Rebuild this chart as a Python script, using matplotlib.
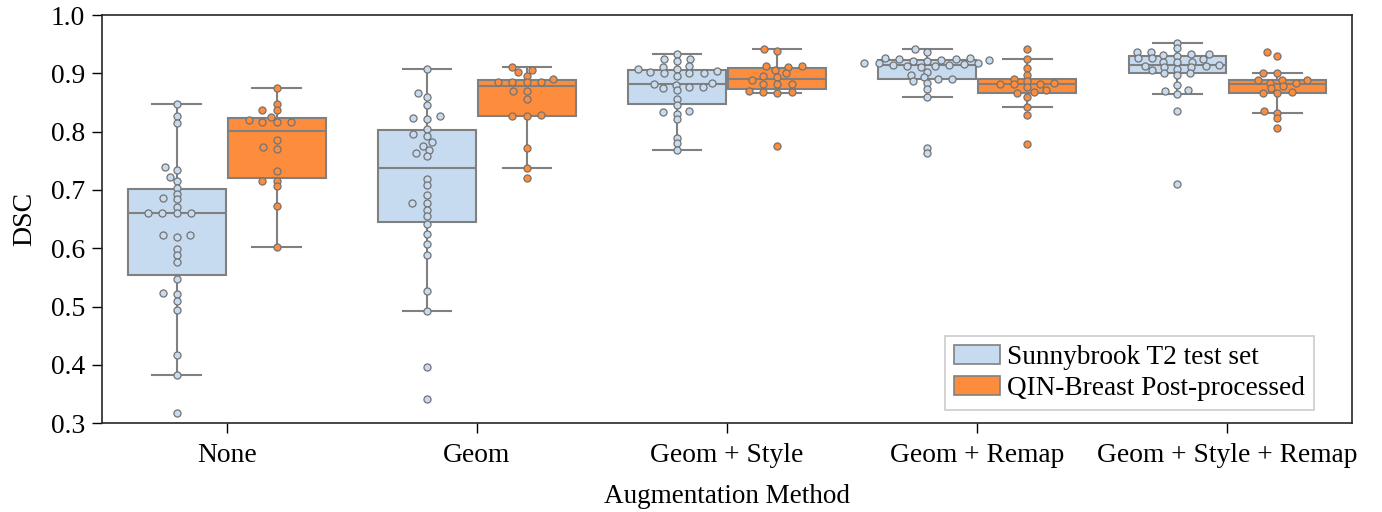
"""Boxplot + swarm of DSC per augmentation method."""
import numpy as np
import matplotlib
matplotlib.use('Agg')
import matplotlib.pyplot as plt
from matplotlib.patches import Patch

plt.rcParams['font.family'] = ['Liberation Serif', 'DejaVu Serif']

METHODS = ['None', 'Geom', 'Geom + Style', 'Geom + Remap', 'Geom + Style + Remap']
SERIES = ['Sunnybrook T2 test set', 'QIN-Breast Post-processed']
COLORS = ['#c6dbef', '#fd8d3c']

# Sunnybrook T2 test set (30 cases per method)
sb_none = [0.847, 0.827, 0.815, 0.740, 0.735, 0.723, 0.715, 0.704, 0.693, 0.687,
           0.684, 0.670, 0.661, 0.661, 0.661, 0.661, 0.622, 0.619, 0.622, 0.598,
           0.588, 0.577, 0.547, 0.523, 0.521, 0.510, 0.495, 0.417, 0.383, 0.317]
sb_geom = [0.907, 0.867, 0.860, 0.846, 0.826, 0.824, 0.822, 0.805, 0.796, 0.793,
           0.783, 0.776, 0.768, 0.764, 0.758, 0.718, 0.709, 0.691, 0.677, 0.677,
           0.665, 0.656, 0.642, 0.624, 0.607, 0.589, 0.526, 0.492, 0.396, 0.342]
sb_style = [0.934, 0.925, 0.925, 0.921, 0.912, 0.910, 0.907, 0.907, 0.904, 0.903,
            0.901, 0.901, 0.900, 0.896, 0.884, 0.881, 0.880, 0.877, 0.876, 0.874,
            0.871, 0.856, 0.845, 0.836, 0.833, 0.831, 0.822, 0.789, 0.780, 0.769]
sb_remap = [0.941, 0.936, 0.926, 0.926, 0.925, 0.924, 0.923, 0.923, 0.922, 0.921,
            0.918, 0.917, 0.917, 0.916, 0.915, 0.914, 0.913, 0.912, 0.911, 0.903,
            0.897, 0.893, 0.890, 0.890, 0.886, 0.884, 0.873, 0.859, 0.772, 0.763]
sb_full = [0.952, 0.943, 0.937, 0.937, 0.933, 0.933, 0.932, 0.930, 0.926, 0.926,
           0.925, 0.920, 0.919, 0.919, 0.915, 0.913, 0.912, 0.911, 0.910, 0.908,
           0.905, 0.901, 0.900, 0.897, 0.880, 0.871, 0.870, 0.865, 0.836, 0.710]

# QIN-Breast post-processed (18 cases per method)
qin_none = [0.875, 0.848, 0.837, 0.837, 0.825, 0.820, 0.817, 0.817, 0.817,
            0.786, 0.774, 0.771, 0.732, 0.716, 0.716, 0.706, 0.673, 0.602]
qin_geom = [0.911, 0.905, 0.903, 0.896, 0.890, 0.885, 0.885, 0.885, 0.885,
            0.870, 0.869, 0.856, 0.829, 0.827, 0.827, 0.772, 0.737, 0.721]
qin_style = [0.942, 0.938, 0.913, 0.913, 0.910, 0.906, 0.900, 0.895, 0.893,
             0.888, 0.882, 0.882, 0.881, 0.870, 0.868, 0.868, 0.867, 0.775]
qin_remap = [0.941, 0.924, 0.909, 0.897, 0.891, 0.887, 0.884, 0.882, 0.881,
             0.881, 0.877, 0.872, 0.868, 0.866, 0.860, 0.843, 0.828, 0.779]
qin_full = [0.936, 0.930, 0.901, 0.901, 0.889, 0.888, 0.888, 0.883, 0.883,
            0.879, 0.874, 0.868, 0.866, 0.866, 0.836, 0.8325, 0.823, 0.806]

SB = [sb_none, sb_geom, sb_style, sb_remap, sb_full]
QIN = [qin_none, qin_geom, qin_style, qin_remap, qin_full]

EDGE = '0.5'
DODGE = 0.2
BOX_W = 0.39


def swarm_x(ax, values, center, d_px=14.5, y_stretch=2.8):
    # beeswarm in display space (seaborn-like), x spacing wider than y
    vals = np.asarray(values, float)
    ys = ax.transData.transform(np.column_stack([np.zeros_like(vals), vals]))[:, 1] * y_stretch
    offs = np.zeros(len(vals)); placed = []
    for i in np.argsort(ys):
        y = ys[i]
        near = [(px, py) for px, py in placed if abs(py - y) < d_px]
        cands = [0.0]
        for px, py in near:
            dx = np.sqrt(d_px**2 - (py - y)**2)
            cands += [px - dx, px + dx]
        cands.sort(key=abs)
        for c in cands:
            if all((c - px)**2 + (y - py)**2 >= d_px**2 - 1e-6 for px, py in near):
                break
        placed.append((c, y)); offs[i] = c
    ppu = ax.transData.transform([(1, 0)])[0, 0] - ax.transData.transform([(0, 0)])[0, 0]
    return center + offs / ppu


fig = plt.figure(figsize=(13.82, 5.12), dpi=100)
ax = fig.add_axes([0.0736, 0.1732, 0.905, 0.7975])
ax.set_xlim(-0.5, 4.5); ax.set_ylim(0.3, 1.0)

for k, (groups, col) in enumerate(zip([SB, QIN], COLORS)):
    pos = np.arange(len(METHODS)) + (-DODGE if k == 0 else DODGE)
    line = dict(color=EDGE, lw=1.5)
    ax.boxplot(groups, positions=pos, widths=BOX_W, patch_artist=True, showfliers=False,
               whis=1.5, boxprops=dict(facecolor=col, edgecolor=EDGE, lw=1.5),
               medianprops=line, whiskerprops=line, capprops=line, zorder=2)
    for p, vals in zip(pos, groups):
        ax.scatter(swarm_x(ax, vals, p), vals, s=26, facecolor=col, edgecolor='0.45',
                   linewidths=0.9, zorder=3)

ax.set_xticks(range(len(METHODS)))
ax.set_xticklabels(METHODS)
ax.set_yticks(np.arange(0.3, 1.01, 0.1))
ax.set_yticklabels([f'{v:.1f}' for v in np.arange(0.3, 1.01, 0.1)])
ax.tick_params(labelsize=19.8, length=7, width=1, direction='out')
ax.tick_params(axis='x', pad=7)
ax.tick_params(axis='y', pad=5)
for s in ax.spines.values():
    s.set_color('0.15'); s.set_linewidth(1.2)
ax.set_xlabel('Augmentation Method', fontsize=19.5, labelpad=12)
ax.set_ylabel('DSC', fontsize=20, labelpad=10)

handles = [Patch(facecolor=c, edgecolor=EDGE, lw=1.2) for c in COLORS]
leg = ax.legend(handles, SERIES, loc='lower right', bbox_to_anchor=(0.969, 0.033),
                borderaxespad=0, fontsize=19.6, frameon=True, fancybox=False,
                framealpha=1, edgecolor='0.8', handlelength=1.7, handleheight=0.7,
                handletextpad=0.25, labelspacing=0.22, borderpad=0.32)
leg.get_frame().set_linewidth(1.2)

fig.savefig('out.png', dpi=100)
